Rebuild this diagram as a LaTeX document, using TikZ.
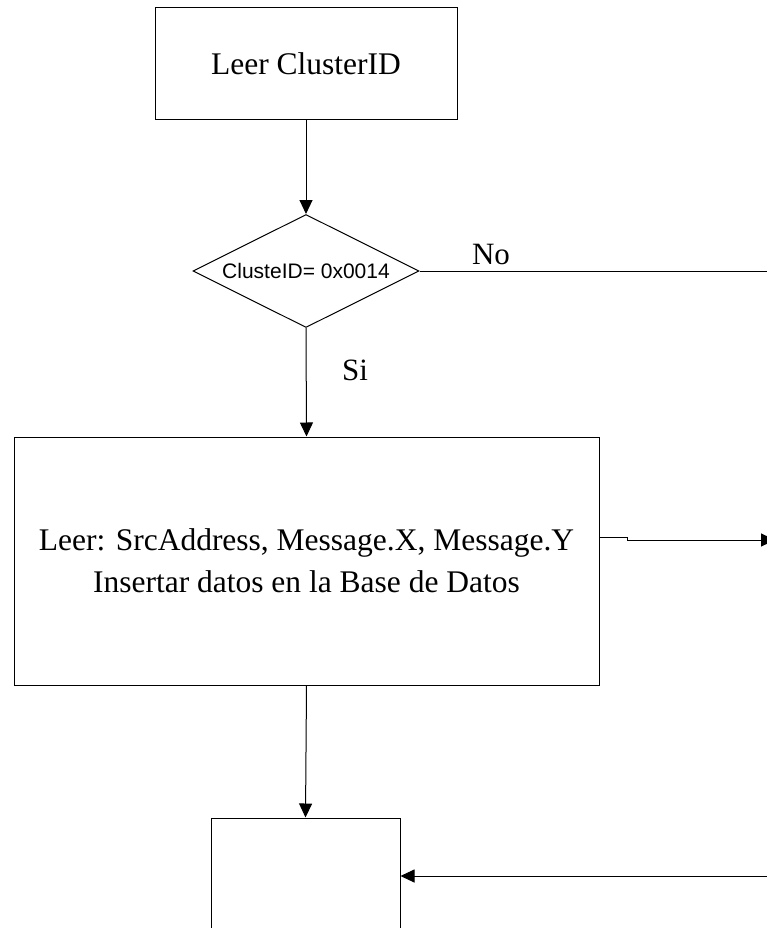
\documentclass[tikz,border=0pt]{standalone}
\usepackage{fontspec}
\setmainfont{Liberation Serif}
\newfontfamily\arialfont{Liberation Sans}
\usetikzlibrary{shapes.geometric,arrows.meta}
\tikzstyle{process}=[rectangle,draw,line width=1pt,align=center,inner sep=0pt,font=\fontsize{31.5}{42}\selectfont]
\tikzstyle{decision}=[diamond,draw,line width=1pt,inner sep=0pt,aspect=2,font=\arialfont\fontsize{21}{24}\selectfont]
\tikzstyle{flow}=[line width=1pt,-{Triangle[length=14pt,width=13pt]}]
\tikzstyle{answer}=[inner sep=0pt,font=\fontsize{31}{36}\selectfont]

\begin{document}
\begin{tikzpicture}[x=1pt,y=-1pt]
    \useasboundingbox (0,0) rectangle (767,928);
    \clip (0,0) rectangle (767,928);
    \node[process,minimum width=302pt,minimum height=112pt] (read) at (306,64) {Leer ClusterID};
    \node[decision,minimum width=226pt,minimum height=113pt] (check) at (306,271) {ClusteID= 0x0014};
    \node[process,minimum width=585pt,minimum height=248pt] (store) at (306.5,561)
        {Leer: SrcAddress, Message.X, Message.Y\\Insertar datos en la Base de Datos};
    \node[process,minimum width=189pt,minimum height=182pt] (final) at (305.5,909) {};
    \node[answer] (no) at (491,255) {No};
    \node[answer] (si) at (355,370) {Si};
    \coordinate (noexit) at (767,271);
    \coordinate (toright) at (775,540);
    \coordinate (fromright) at (767,876);
    \draw[flow] (read.south) -- (check.north);
    \draw[line width=1pt] (check.east) -- (noexit);
    \draw[flow] (check.south) -- (store.north);
    \draw[flow] ([yshift=24pt]store.east) -- ++(28,0) -- ++(0,3) -- (toright);
    \draw[flow] (store.south) -- (final.north);
    \draw[flow] (fromright) -- (fromright -| final.east);
\end{tikzpicture}
\end{document}
